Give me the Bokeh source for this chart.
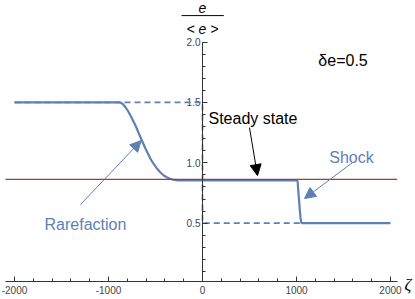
from bokeh.plotting import figure
from bokeh.models import LinearAxis, FixedTicker, Arrow, NormalHead, Label, Range1d
from bokeh.embed import file_html
from bokeh.resources import INLINE
from bokeh.core.properties import value

# ---- data ----
zeta_solid = [-2000, -890, -870, -845, -820, -790, -766, -713, -660, -606, -553,
              -510, -482, -450, -412, -375, -340, -300, -260, 1000, 1012, 1018,
              1030, 1042, 1050, 1060, 2000]
e_solid = [1.5, 1.5, 1.498, 1.485, 1.46, 1.425, 1.392, 1.309, 1.212, 1.116, 1.033,
           0.98, 0.95, 0.922, 0.895, 0.878, 0.866, 0.858, 0.855, 0.855, 0.847, 0.78,
           0.66, 0.55, 0.505, 0.5, 0.5]
zeta_init = [-2000, 0, 0, 2000]
e_init = [1.5, 1.5, 0.5, 0.5]
steady_level = 0.862
x_line_extent = [-2096, 2070]
x_axis_level = 0.017

x_major = [-2000, -1000, 0, 1000, 2000]
x_major_labels = ["-2000", "-1000", "0", "1000", "2000"]
x_minor = [-2000, -1800, -1600, -1400, -1200, -1000, -800, -600, -400, -200, 0,
           200, 400, 600, 800, 1000, 1200, 1400, 1600, 1800, 2000]
y_major = [0.5, 1.0, 1.5, 2.0]
y_major_labels = ["0.5", "1.0", "1.5", "2.0"]
y_minor = [0.1, 0.2, 0.3, 0.4, 0.5, 0.6, 0.7, 0.8, 0.9, 1.0, 1.1, 1.2, 1.3, 1.4,
           1.5, 1.6, 1.7, 1.8, 1.9, 2.0]
y_axis_bounds = [0.017, 2.0]
x_label_y = -0.024

# annotations: (text, x, y, colour)
notes = [("Rarefaction", -1245, 0.488, "#5E81B5"),
         ("Shock", 1585, 1.043, "#5E81B5"),
         ("Steady state", 537, 1.366, "black"),
         ("δe=0.5", 1495, 1.846, "black")]
arrows = [(-1298, 0.654, -652, 1.184, "#5E81B5"),
          (1596, 1.002, 1085, 0.704, "#5E81B5"),
          (500, 1.291, 585, 0.894, "black")]
frac_num_y = 2.285
frac_bar_y = 2.219
frac_den_y = 2.105
frac_bar_x = [-223, 227]
zeta_label_x = 2185
zeta_label_y = -0.01

BLUE = "#5E81B5"
AX = "#333333"
FONT = "Liberation Sans"

p = figure(width=415, height=299, x_range=Range1d(-2149, 2266), y_range=Range1d(-0.132, 2.344),
           x_axis_type=None, y_axis_type=None, toolbar_location=None,
           output_backend="svg", min_border=0, outline_line_color=None)
p.xgrid.visible = False
p.ygrid.visible = False

xaxis = LinearAxis(fixed_location=x_axis_level,
                   ticker=FixedTicker(ticks=x_major, minor_ticks=x_minor),
                   major_label_overrides={t: "" for t in x_major},
                   major_label_text_font_size="0px", major_label_standoff=0,
                   major_tick_in=5, major_tick_out=0, minor_tick_in=3, minor_tick_out=0,
                   axis_line_color=AX, major_tick_line_color=AX, minor_tick_line_color=AX,
                   bounds=tuple(x_line_extent))
p.add_layout(xaxis, "below")

yaxis = LinearAxis(fixed_location=0, ticker=FixedTicker(ticks=y_major, minor_ticks=y_minor),
                   major_label_overrides={t: "" for t in y_major},
                   major_label_text_font_size="0px", major_label_standoff=0,
                   major_tick_in=5, major_tick_out=0, minor_tick_in=3, minor_tick_out=0,
                   axis_line_color=AX, major_tick_line_color=AX, minor_tick_line_color=AX,
                   bounds=tuple(y_axis_bounds))
p.add_layout(yaxis, "left")

# tick labels
p.text(x=[0] * len(y_major), y=y_major, text=y_major_labels, x_offset=-2,
       text_align="right", text_baseline="middle", text_font=value(FONT),
       text_font_size="10px", text_color="#444444")
p.text(x=x_major, y=[x_label_y] * len(x_major), text=x_major_labels,
       text_align="center", text_baseline="top", text_font=value(FONT),
       text_font_size="10px", text_color="#444444")

# curves
p.line(zeta_init, e_init, line_color=BLUE, line_width=1.7, line_dash="6 4")
p.line(zeta_solid, e_solid, line_color=BLUE, line_width=2.2)
p.line(x_line_extent, [steady_level, steady_level], line_color="#A8383A", line_width=1.2)

for (x0, y0, x1, y1, c) in arrows:
    p.add_layout(Arrow(x_start=x0, y_start=y0, x_end=x1, y_end=y1, line_color=c,
                       line_width=1,
                       end=NormalHead(size=11, fill_color=c, line_color=c, line_width=1)))

for (t, x, y, c) in notes:
    p.add_layout(Label(x=x, y=y, text=t, text_align="center", text_baseline="alphabetic",
                       text_font=FONT, text_font_size="16px", text_color=c))

# y-axis label as a fraction
p.add_layout(Label(x=0, y=frac_num_y, text="e", text_align="center", text_baseline="alphabetic",
                   text_font=FONT, text_font_style="italic", text_font_size="14px",
                   text_color="black"))
p.segment(x0=[frac_bar_x[0]], y0=[frac_bar_y], x1=[frac_bar_x[1]], y1=[frac_bar_y],
          line_color="black", line_width=1)
p.add_layout(Label(x=0, y=frac_den_y, text="< e >", text_align="center",
                   text_baseline="alphabetic", text_font=FONT, text_font_style="italic",
                   text_font_size="14px", text_color="black"))
p.add_layout(Label(x=zeta_label_x, y=zeta_label_y, text="ζ", text_align="center",
                   text_baseline="middle", text_font="Liberation Serif",
                   text_font_style="italic", text_font_size="17px", text_color="black"))

open("out.html", "w").write(file_html(p, INLINE))
